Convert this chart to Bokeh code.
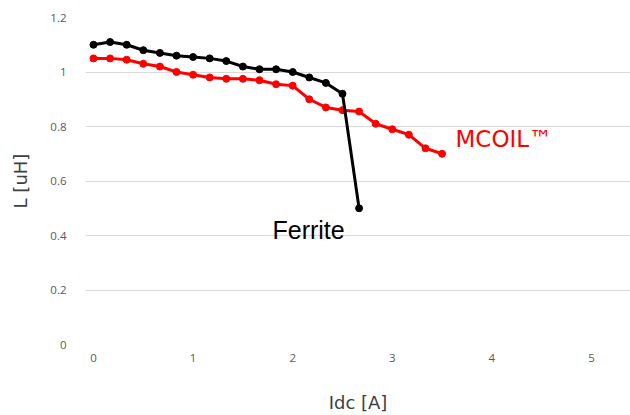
from bokeh.plotting import figure
from bokeh.models import Range1d, FixedTicker, Label
from bokeh.embed import file_html
from bokeh.resources import INLINE

# Data (x step = 1/6 A)
ferrite_x = [0, 1/6, 2/6, 3/6, 4/6, 5/6, 1.0, 7/6, 8/6, 9/6, 10/6, 11/6, 2.0, 13/6, 14/6, 15/6, 16/6]
ferrite_L = [1.10, 1.11, 1.10, 1.08, 1.07, 1.06, 1.055, 1.05, 1.04, 1.02, 1.01, 1.01, 1.0, 0.98, 0.96, 0.92, 0.50]
mcoil_x = [0, 1/6, 2/6, 3/6, 4/6, 5/6, 1.0, 7/6, 8/6, 9/6, 10/6, 11/6, 2.0, 13/6, 14/6, 15/6, 16/6,
           17/6, 3.0, 19/6, 20/6, 21/6]
mcoil_L = [1.05, 1.05, 1.045, 1.03, 1.02, 1.0, 0.99, 0.98, 0.975, 0.975, 0.97, 0.955, 0.95, 0.90,
           0.87, 0.86, 0.855, 0.81, 0.79, 0.77, 0.72, 0.70]
x_ticks = [0, 1, 2, 3, 4, 5]
y_ticks = [0, 0.2, 0.4, 0.6, 0.8, 1.0, 1.2]
x_title = "Idc [A]"
y_title = "L [uH]"

p = figure(frame_width=545, frame_height=327, output_backend="svg", toolbar_location=None,
           x_range=Range1d(-0.0803, 5.392), y_range=Range1d(0, 1.2),
           min_border_left=85, min_border_right=0, min_border_top=17, min_border_bottom=71)
p.outline_line_color = None
p.background_fill_color = "white"
p.border_fill_color = "white"

p.xgrid.grid_line_color = None
p.ygrid.grid_line_color = "#d9d9d9"
p.ygrid.grid_line_width = 1

tick_font = "Open Sans"
for ax in (p.xaxis[0], p.yaxis[0]):
    ax.axis_line_color = None
    ax.major_tick_line_color = None
    ax.minor_tick_line_color = None
    ax.major_label_text_color = "#595959"
    ax.major_label_text_font = tick_font
    ax.major_label_text_font_size = "11.5px"
    ax.axis_label_text_font = "DejaVu Sans"
    ax.axis_label_text_font_style = "normal"
    ax.axis_label_text_font_size = "18px"
    ax.axis_label_text_color = "#404040"

p.xaxis.ticker = FixedTicker(ticks=x_ticks)
p.yaxis.ticker = FixedTicker(ticks=y_ticks)
p.yaxis.major_label_overrides = {0: "0", 1.0: "1", 1.2: "1.2", 0.2: "0.2", 0.4: "0.4", 0.6: "0.6", 0.8: "0.8"}
p.xaxis.major_label_standoff = 3
p.yaxis.major_label_standoff = 13
p.xaxis.axis_label = x_title
p.yaxis.axis_label = y_title
p.xaxis.axis_label_standoff = 27
p.yaxis.axis_label_standoff = 16

p.line(mcoil_x, mcoil_L, line_color="#ff0000", line_width=3)
p.scatter(mcoil_x, mcoil_L, size=7, fill_color="#ff0000", line_color="#ff0000")
p.line(ferrite_x, ferrite_L, line_color="black", line_width=3)
p.scatter(ferrite_x, ferrite_L, size=7, fill_color="black", line_color="black")

p.add_layout(Label(x=1.797, y=0.422, text="Ferrite", text_font="Liberation Sans",
                   text_font_size="25px", text_color="black", text_baseline="alphabetic"))
p.add_layout(Label(x=3.635, y=0.753, text="MCOIL™", text_font="DejaVu Sans",
                   text_font_size="23px", text_color="#ff0000", text_baseline="alphabetic"))

open("out.html", "w").write(file_html(p, INLINE))
